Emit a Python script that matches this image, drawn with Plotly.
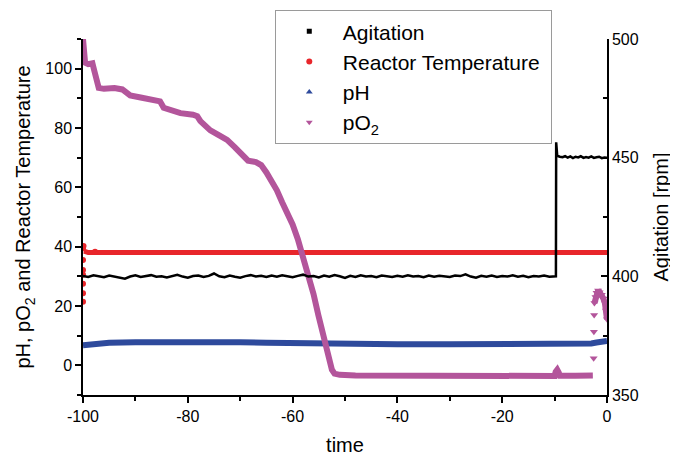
import plotly.graph_objects as go

# ---------------- data ----------------
agit_time = [-100, -99, -98, -97, -96, -95, -94, -93, -92, -91, -90, -89, -88, -87, -86, -85, -84, -83, -82, -81,
             -80, -79, -78, -77, -76, -75, -74, -73, -72, -71, -70, -69, -68, -67, -66, -65, -64, -63, -62, -61,
             -60, -59, -58, -57, -56, -55, -54, -53, -52, -51, -50, -49, -48, -47, -46, -45, -44, -43, -42, -41,
             -40, -39, -38, -37, -36, -35, -34, -33, -32, -31, -30, -29, -28, -27, -26, -25, -24, -23, -22, -21,
             -20, -19, -18, -17, -16, -15, -14, -13, -12, -11, -10, -9.75, -9.7, -9.5, -9, -8.5, -8, -7.5, -7,
             -6.5, -6, -5.5, -5, -4.5, -4, -3.5, -3, -2.5, -2, -1.5, -1, -0.5, 0]
agitation = [400.2, 399.7, 400.4, 400.0, 399.6, 400.3, 399.8, 399.3, 399.0, 399.9, 400.4, 399.7, 400.1, 400.5,
             399.8, 400.0, 399.5, 400.2, 400.6, 399.9, 399.4, 400.1, 400.3, 399.7, 400.2, 401.2, 400.0, 399.6,
             400.3, 399.8, 399.4, 400.1, 400.5, 399.9, 400.2, 399.7, 400.3, 399.8, 400.4, 400.0, 399.6, 400.2,
             400.7, 399.9, 400.1, 399.5, 400.3, 399.8, 400.5, 400.0, 399.3, 400.2, 399.7, 400.4, 399.9, 400.1,
             399.6, 400.3, 400.0, 399.7, 400.2, 399.8, 400.4, 399.9, 400.1, 399.6, 400.3, 399.8, 400.2, 400.0,
             399.7, 400.3, 400.1, 400.8, 399.9, 399.4, 400.2, 399.8, 400.3, 399.7, 400.1, 399.9, 400.4, 399.8,
             400.2, 399.6, 400.1, 399.9, 400.3, 399.8, 400.0, 400.0, 456.5, 450.8, 450.4, 450.2, 450.6, 450.0,
             450.5, 449.8, 450.4, 450.1, 450.6, 449.9, 450.3, 450.0, 450.5, 449.9, 450.2, 450.4, 449.8, 450.1, 450.0]

temp_start_time = [-100, -100, -100, -100, -100, -100, -100, -99.9, -97.7]
temp_start = [21.4, 24.3, 27.5, 30.5, 32.1, 35.5, 39.4, 40.2, 38.3]
temp_time = [-99.8, -99.5, -99, -80, -60, -40, -20, 0]
temperature = [38.5, 38.2, 38.0, 38.0, 38.0, 38.0, 38.0, 38.0]

ph_time = [-100, -98, -95, -90, -85, -80, -75, -70, -65, -60, -55, -50, -40, -30, -20, -10, -5, -3, -2, -1, 0]
ph = [6.8, 7.3, 7.6, 7.8, 7.9, 7.9, 7.85, 7.8, 7.6, 7.4, 7.2, 7.1, 7.1, 7.1, 7.1, 7.2, 7.3, 7.4, 7.7, 8.0, 8.2]

po2_time = [-100, -99.8, -99.6, -99, -98.2, -97.8, -97.4, -97, -96, -94, -92.5, -91, -89, -87, -85.3, -84.6,
            -83, -81.4, -79, -78.2, -77.6, -75.7, -74, -72.5, -71, -69.5, -68.5, -67, -66, -65, -64, -63, -62,
            -61, -60, -59, -58.5, -57.5, -56.5, -56, -55.1, -54.5, -53.9, -53.4, -53, -52.5, -52, -51, -48,
            -40, -30, -20, -10, -9.8, -9.5, -9.2, -9, -6, -2.7]
po2 = [110, 106, 102, 101.5, 101.8, 99, 96, 93.5, 93.2, 93.5, 93, 91, 90.3, 89.8, 89, 86.8,
       86, 85, 84.5, 84, 82.3, 79.2, 77.5, 76, 73.5, 71, 69, 68.5, 67.5, 65, 62, 59, 55,
       51.5, 47.5, 42.5, 39.5, 34, 27, 24, 17, 13, 9, 5, 1.5, -1.5, -2.8, -3.2, -3.4,
       -3.5, -3.6, -3.6, -3.6, -2.2, -1.5, -2.5, -3.5, -3.5, -3.4]
po2_jump_time = [-2.55, -2.5, -2.45]
po2_jump = [2.4, 11.3, 17.0]
po2_end_time = [-2.4, -2.2, -2.0, -1.7, -1.4, -1.0, -0.7, -0.4, -0.2, 0]
po2_end = [21.0, 23.0, 24.5, 25.2, 24.6, 23.8, 22.5, 21.0, 18.5, 15.5]

x_tick_vals = [-100, -80, -60, -40, -20, 0]
x_tick_text = ["-100", "-80", "-60", "-40", "-20", "0"]

# ---------------- style ----------------
BLACK = "#000000"
RED = "#E8262B"
BLUE = "#2E4A9C"
PURPLE = "#B3559B"
FONT = "Liberation Sans, Arial, sans-serif"

fig = go.Figure()

fig.add_trace(go.Scatter(x=ph_time, y=ph, mode="lines", line=dict(color=BLUE, width=6), showlegend=False))
fig.add_trace(go.Scatter(x=temp_time, y=temperature, mode="lines", line=dict(color=RED, width=5), showlegend=False))
fig.add_trace(go.Scatter(x=temp_start_time, y=temp_start, mode="markers",
                         marker=dict(color=RED, size=6, symbol="circle"), showlegend=False))
fig.add_trace(go.Scatter(x=po2_time, y=po2, mode="lines", line=dict(color=PURPLE, width=6), showlegend=False))
fig.add_trace(go.Scatter(x=po2_jump_time, y=po2_jump, mode="markers",
                         marker=dict(color=PURPLE, size=7, symbol="triangle-down"), showlegend=False))
fig.add_trace(go.Scatter(x=po2_end_time, y=po2_end, mode="lines+markers", line=dict(color=PURPLE, width=6),
                         marker=dict(color=PURPLE, size=7, symbol="triangle-down"), showlegend=False))
fig.add_trace(go.Scatter(x=agit_time, y=agitation, mode="lines", line=dict(color=BLACK, width=2.5),
                         yaxis="y2", showlegend=False))

# legend entries
fig.add_trace(go.Scatter(x=[None], y=[None], mode="markers", name="Agitation",
                         marker=dict(color=BLACK, size=5, symbol="square")))
fig.add_trace(go.Scatter(x=[None], y=[None], mode="markers", name="Reactor Temperature\u00a0",
                         marker=dict(color=RED, size=6, symbol="circle")))
fig.add_trace(go.Scatter(x=[None], y=[None], mode="markers", name="pH",
                         marker=dict(color=BLUE, size=6, symbol="triangle-up")))
fig.add_trace(go.Scatter(x=[None], y=[None], mode="markers", name="pO<sub>2</sub>",
                         marker=dict(color=PURPLE, size=6, symbol="triangle-down")))

fig.update_layout(
    width=670, height=449,
    margin=dict(l=75, r=71, t=31, b=62, autoexpand=False),
    paper_bgcolor="white", plot_bgcolor="white",
    font=dict(family=FONT, color="black", size=16),
    showlegend=True,
    legend=dict(
        x=0.366, y=1.081, xanchor="left", yanchor="top",
        bgcolor="white", bordercolor="#9a9a9a", borderwidth=1,
        font=dict(family=FONT, size=21, color="black"),
        itemwidth=57, tracegroupgap=0,
    ),
    xaxis=dict(
        range=[-100, 0], tickvals=x_tick_vals, ticktext=x_tick_text, showgrid=False, zeroline=False,
        showline=True, linecolor="black", linewidth=1.5, automargin=False,
        ticks="outside", ticklen=6, tickwidth=1.5, tickcolor="black",
        minor=dict(dtick=10, tick0=0, ticks="outside", ticklen=4, tickwidth=1.5, tickcolor="black"),
        tickfont=dict(size=16),
        title=dict(text="time", font=dict(size=20), standoff=14),
    ),
    yaxis=dict(
        range=[-10, 110], dtick=20, tick0=0, showgrid=False, zeroline=False,
        showline=True, linecolor="black", linewidth=1.5, automargin=False,
        ticks="outside", ticklen=6, tickwidth=1.5, tickcolor="black",
        minor=dict(dtick=10, ticks="outside", ticklen=4, tickwidth=1.5, tickcolor="black"),
        tickfont=dict(size=16),
        title=dict(text="pH, pO<sub>2</sub> and Reactor Temperature", font=dict(size=20), standoff=9),
    ),
    yaxis2=dict(
        overlaying="y", side="right", anchor="x",
        range=[350, 500], dtick=50, tick0=0, showgrid=False, zeroline=False,
        showline=True, linecolor="black", linewidth=1.5, automargin=False,
        ticks="inside", ticklen=6, tickwidth=1.5, tickcolor="black",
        minor=dict(dtick=25, ticks="inside", ticklen=4, tickwidth=1.5, tickcolor="black"),
        tickfont=dict(size=16),
        title=dict(text="Agitation [rpm]", font=dict(size=20), standoff=16),
    ),
)

fig.write_html("out.html")
